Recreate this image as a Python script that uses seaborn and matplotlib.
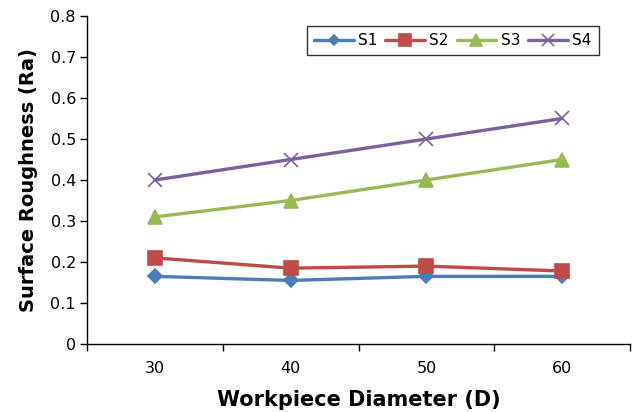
import numpy as np
import pandas as pd
import matplotlib
matplotlib.use("Agg")
import matplotlib.pyplot as plt
import seaborn as sns

diameters = ["30", "40", "50", "60"]
series_names = ["S1", "S2", "S3", "S4"]
s1 = [0.165, 0.155, 0.165, 0.165]
s2 = [0.21, 0.185, 0.19, 0.178]
s3 = [0.31, 0.35, 0.40, 0.45]
s4 = [0.40, 0.45, 0.50, 0.55]
y_ticks = [0, 0.1, 0.2, 0.3, 0.4, 0.5, 0.6, 0.7, 0.8]
y_tick_labels = ["0", "0.1", "0.2", "0.3", "0.4", "0.5", "0.6", "0.7", "0.8"]

rows = []
for name, vals in zip(series_names, [s1, s2, s3, s4]):
    for i, (d, v) in enumerate(zip(diameters, vals)):
        rows.append({"pos": i, "Diameter": d, "Ra": v, "Series": name})
df = pd.DataFrame(rows)

sns.set_theme(style="white")
plt.rcParams['font.family'] = ['DejaVu Sans']
plt.rcParams['text.color'] = 'black'
plt.rcParams['axes.labelcolor'] = 'black'
plt.rcParams['xtick.color'] = 'black'
plt.rcParams['ytick.color'] = 'black'

colors = {"S1": "#4A7EBB", "S2": "#BE4B48", "S3": "#98B954", "S4": "#7D60A0"}
markers = {"S1": "D", "S2": "s", "S3": "^", "S4": "x"}
msizes = {"S1": 7, "S2": 10, "S3": 10, "S4": 10}

fig = plt.figure(figsize=(6.34, 4.12), dpi=100)
ax = fig.add_axes([87/634, 1 - 344/412, (630-87)/634, (344-16)/412])

for name in series_names:
    sub = df[df["Series"] == name]
    sns.lineplot(data=sub, x="pos", y="Ra", color=colors[name], marker=markers[name],
                 markersize=msizes[name], markeredgecolor=colors[name],
                 markeredgewidth=1.2, linewidth=2.4, label=name, ax=ax)

ax.set_xlim(-0.5, 3.5)
ax.set_ylim(0, 0.8)
ax.set_xticks(range(len(diameters)))
ax.set_xticklabels(diameters, fontsize=11.5)
ax.set_xticks(np.arange(-0.5, 3.6, 1.0), minor=True)
ax.tick_params(axis="x", which="major", length=0, pad=12)
ax.tick_params(axis="x", which="minor", length=5, width=1, color="black", direction="out", bottom=True)
ax.set_yticks(y_ticks)
ax.set_yticklabels(y_tick_labels, fontsize=11.5)
ax.tick_params(axis="y", length=5, width=1, color="black", direction="out", left=True, pad=3)

for sp in ["top", "right"]:
    ax.spines[sp].set_visible(False)
for sp in ["left", "bottom"]:
    ax.spines[sp].set_color("black")
    ax.spines[sp].set_linewidth(1.0)

ax.set_xlabel("Workpiece Diameter (D)", fontsize=15, fontweight="bold", labelpad=10)
ax.set_ylabel("Surface Roughness (Ra)", fontsize=14, fontweight="bold", labelpad=9)

handles, labels = ax.get_legend_handles_labels()
leg = ax.legend(handles, labels, ncol=4, loc="upper left",
                bbox_to_anchor=((307-87)/543, 1 - (26-16)/328),
                frameon=True, fancybox=False, fontsize=11,
                handlelength=2.6, handletextpad=0.3, columnspacing=0.5,
                borderpad=0.45, borderaxespad=0, markerscale=0.8)
leg.get_frame().set_edgecolor("black")
leg.get_frame().set_linewidth(1.0)

fig.savefig("out.png", dpi=100)
